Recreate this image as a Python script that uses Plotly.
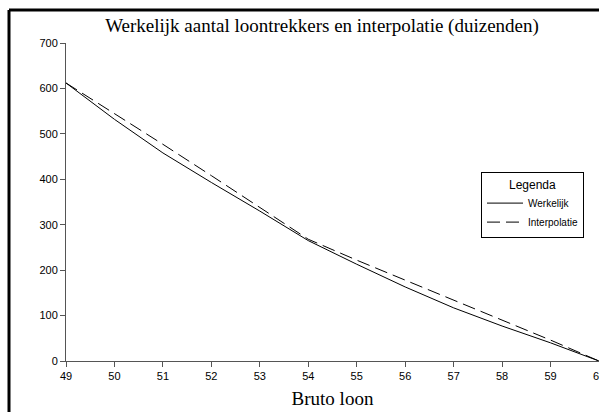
import plotly.graph_objects as go

bruto_loon = [49, 50, 51, 52, 53, 54, 55, 56, 57, 58, 59, 60]
werkelijk = [612, 532, 458, 393, 330, 265, 213, 163, 117, 77, 40, 0]
interpolatie = [612, 545, 477, 408, 338, 268, 222, 178, 134, 90, 46, 0]
y_ticks = [0, 100, 200, 300, 400, 500, 600, 700]

W, H = 599, 412
L, R, T, B = 66, 0, 43, 412 - 361
pw, ph = W - L - R, H - T - B

def px(x):
    return (x - L) / pw

def py(y):
    return (H - B - y) / ph

fig = go.Figure()
fig.add_trace(go.Scatter(x=bruto_loon, y=werkelijk, mode="lines", name="Werkelijk",
                         line=dict(color="black", width=1)))
fig.add_trace(go.Scatter(x=bruto_loon, y=interpolatie, mode="lines", name="Interpolatie",
                         line=dict(color="black", width=1, dash="13px,6px")))

fig.update_layout(
    width=W, height=H,
    margin=dict(l=L, r=R, t=T, b=B, autoexpand=False),
    paper_bgcolor="white", plot_bgcolor="white",
    title=dict(text="Werkelijk aantal loontrekkers en interpolatie (duizenden)",
               xref="container", x=322 / W, xanchor="center",
               yref="container", y=1 - 25 / H, yanchor="middle",
               font=dict(family="Liberation Serif", size=19, color="black")),
    xaxis=dict(range=[49, 60], tickvals=bruto_loon, showgrid=False, zeroline=False,
               showline=True, linecolor="#555", linewidth=1, ticks="outside",
               ticklen=5, tickcolor="#555", automargin=False,
               ticklabeloverflow="allow",
               tickfont=dict(family="Liberation Sans", size=11, color="black"),
               title=dict(text="Bruto loon", standoff=10,
                          font=dict(family="Liberation Serif", size=19, color="black"))),
    yaxis=dict(range=[0, 700], tickvals=y_ticks, showgrid=False, zeroline=False,
               showline=True, linecolor="#555", linewidth=1, ticks="outside",
               ticklen=5, tickcolor="#555", automargin=False,
               ticklabeloverflow="allow",
               tickfont=dict(family="Liberation Sans", size=11, color="black")),
    legend=dict(x=px(481), y=py(172), xanchor="left", yanchor="top",
                bordercolor="black", borderwidth=1, bgcolor="white",
                title=dict(text="Legenda", side="top center",
                           font=dict(family="Liberation Sans", size=12, color="black")),
                font=dict(family="Liberation Sans", size=10, color="black"),
                tracegroupgap=0, itemwidth=36, entrywidth=105),
    showlegend=True,
)

fig.add_shape(type="line", xref="paper", yref="paper",
              x0=px(9), x1=px(W + 4), y0=py(10), y1=py(10),
              line=dict(color="black", width=3))
fig.add_shape(type="line", xref="paper", yref="paper",
              x0=px(9), x1=px(9), y0=py(10), y1=py(H + 4),
              line=dict(color="black", width=3))

fig.write_html("out.html",
               config={"displayModeBar": False},
               post_script="document.body.style.margin='0';"
                           "document.body.style.overflow='hidden';"
                           "document.documentElement.style.overflow='hidden';")
